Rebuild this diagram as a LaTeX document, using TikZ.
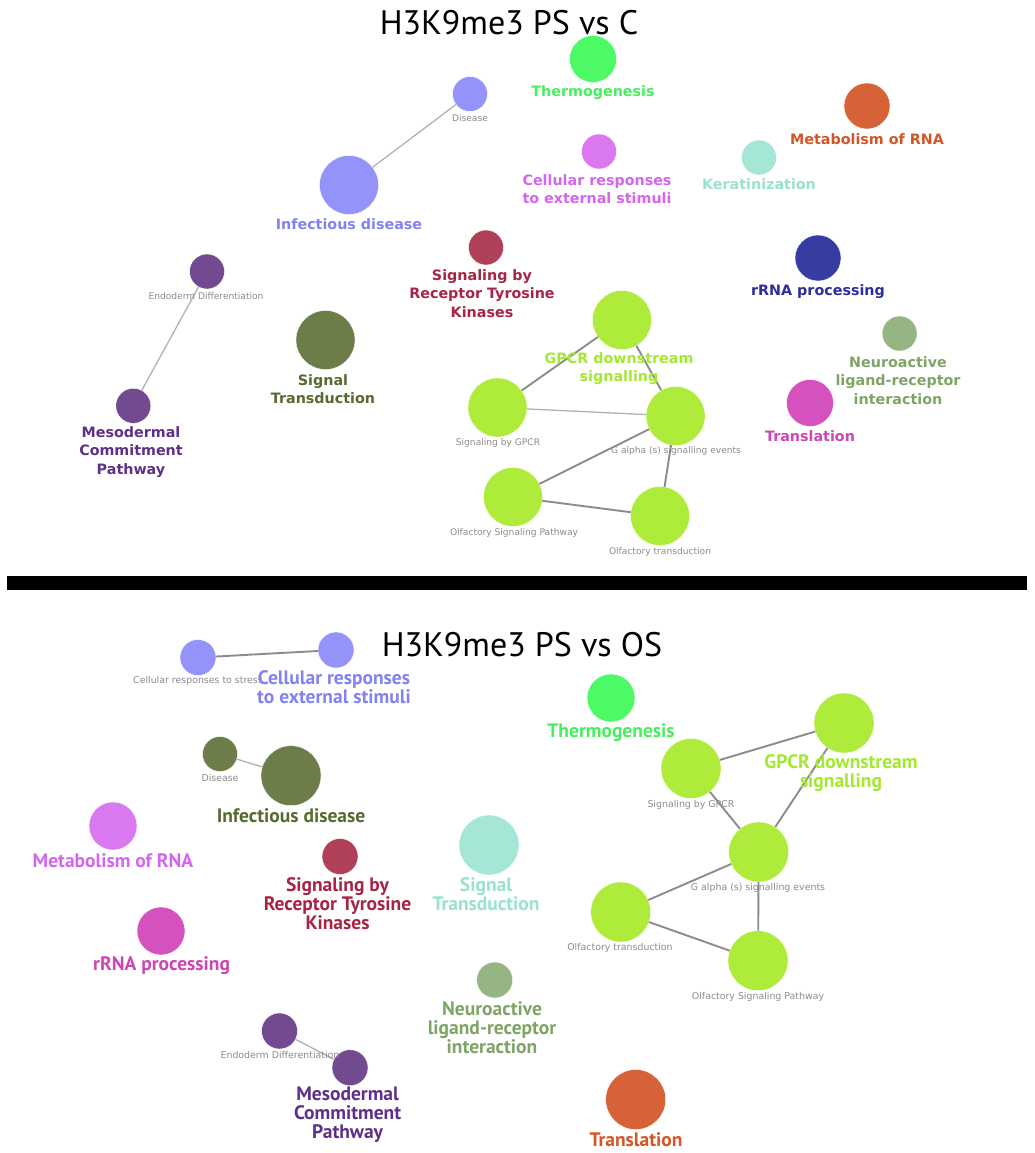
\documentclass[tikz,border=0pt]{standalone}
\usepackage{fontspec}
\setmainfont{DejaVu Sans}
\newfontfamily\ptsans{PT Sans}
\definecolor{peri}{HTML}{9393FA}\definecolor{periL}{HTML}{8282F2}
\definecolor{therm}{HTML}{4DFA66}\definecolor{thermL}{HTML}{46F05C}
\definecolor{viol}{HTML}{DA78EF}\definecolor{violL}{HTML}{D466EE}
\definecolor{oran}{HTML}{D66237}\definecolor{oranL}{HTML}{D65425}
\definecolor{teal}{HTML}{A6E6D6}\definecolor{tealL}{HTML}{98E2CF}
\definecolor{crim}{HTML}{AF4058}\definecolor{crimL}{HTML}{A82445}
\definecolor{navy}{HTML}{373CA2}\definecolor{navyL}{HTML}{2B2E9C}
\definecolor{purp}{HTML}{724A90}\definecolor{purpL}{HTML}{5E3088}
\definecolor{oliv}{HTML}{6C7D4A}\definecolor{olivL}{HTML}{566A31}
\definecolor{lime}{HTML}{AEEB3A}\definecolor{limeL}{HTML}{A4E832}
\definecolor{sage}{HTML}{96B583}\definecolor{sageL}{HTML}{7FA566}
\definecolor{mage}{HTML}{D552BE}\definecolor{mageL}{HTML}{CE45B4}
\definecolor{smallgray}{HTML}{8C8C8C}
\tikzset{
  bub/.style={circle, inner sep=0pt, outer sep=0pt, minimum size=#1, draw=white, line width=0.4pt},
  labA/.style={font=\fontsize{14.3}{18.6}\selectfont\bfseries, align=center, inner sep=0pt},
  labB/.style={font=\ptsans\fontsize{19.5}{19}\selectfont\bfseries, align=center, inner sep=0pt},
  smA/.style={font=\fontsize{9.1}{10}\selectfont, text=smallgray, inner sep=0pt},
  smB/.style={font=\fontsize{9.4}{10}\selectfont, text=smallgray, inner sep=0pt},
  edgeL/.style={draw=black!30, line width=1.3pt},
  edgeD/.style={draw=black!45, line width=1.9pt},
  ttl/.style={font=\ptsans\fontsize{34}{40}\selectfont, inner sep=0pt, anchor=base}
}
\begin{document}
\begin{tikzpicture}[x=1pt,y=-1pt]
\useasboundingbox[fill=white] (0,0) rectangle (1034,1153);
% ===== top panel =====
\node[ttl] (t1) at (509,35) {H3K9me3 PS vs C};
\node[bub=35, fill=peri] (tDis) at (470,94) {};
\node[bub=59, fill=peri] (tInf) at (349,185) {};
\node[bub=47, fill=therm] (tTherm) at (593,59) {};
\node[bub=35, fill=viol] (tCell) at (599,151.5) {};
\node[bub=46, fill=oran] (tMet) at (867,106) {};
\node[bub=35, fill=teal] (tKer) at (759,157.5) {};
\node[bub=35, fill=crim] (tRTK) at (486,247.5) {};
\node[bub=46, fill=navy] (tRRNA) at (818,258) {};
\node[bub=35, fill=purp] (tEndo) at (207,271.5) {};
\node[bub=35, fill=purp] (tMeso) at (133.3,405.8) {};
\node[bub=59, fill=oliv] (tSig) at (325.5,340) {};
\node[bub=59, fill=lime] (tGPCR) at (622,320) {};
\node[bub=59, fill=lime] (tSGPCR) at (497.5,407.5) {};
\node[bub=59, fill=lime] (tGal) at (675.6,416) {};
\node[bub=59, fill=lime] (tOSP) at (513,497) {};
\node[bub=59, fill=lime] (tOT) at (660,516) {};
\node[bub=35, fill=sage] (tNeuro) at (899.6,333.5) {};
\node[bub=47, fill=mage] (tTrans) at (810,403) {};
\draw[edgeL] (tDis) -- (tInf);
\draw[edgeL] (tEndo) -- (tMeso);
\draw[edgeD] (tGPCR) -- (tSGPCR);
\draw[edgeD] (tGPCR) -- (tGal);
\draw[edgeL] (tSGPCR) -- (tGal);
\draw[edgeD] (tGal) -- (tOSP);
\draw[edgeD] (tGal) -- (tOT);
\draw[edgeD] (tOSP) -- (tOT);
\node[smA] (tDisL) at (470,118) {Disease};
\node[labA, text=periL] (tInfL) at (349,224) {Infectious disease};
\node[labA, text=thermL] (tThermL) at (593,92.5) {Thermogenesis};
\node[labA, text=violL] (tCellL) at (597,189) {Cellular responses\\to external stimuli};
\node[labA, text=oranL] (tMetL) at (867,139.5) {Metabolism of RNA};
\node[labA, text=tealL] (tKerL) at (759,184.5) {Keratinization};
\node[labA, text=crimL] (tRTKL) at (482,293.5) {Signaling by\\Receptor Tyrosine\\Kinases};
\node[labA, text=navyL] (tRRNAL) at (818,291.5) {rRNA processing};
\node[smA] (tEndoL) at (206,296) {Endoderm Differentiation};
\node[labA, text=purpL] (tMesoL) at (131,452) {Mesodermal\\Commitment\\Pathway};
\node[labA, text=olivL] (tSigL) at (323,389) {Signal\\Transduction};
\node[labA, text=limeL] (tGPCRL) at (619,368.5) {GPCR downstream\\signalling};
\node[smA] (tSGPCRL) at (498,443) {Signaling by GPCR};
\node[smA] (tGalL) at (676,451) {G alpha (s) signalling events};
\node[smA] (tOSPL) at (514,533) {Olfactory Signaling Pathway};
\node[smA] (tOTL) at (660,552) {Olfactory transduction};
\node[labA, text=sageL] (tNeuroL) at (898,380.5) {Neuroactive\\ligand-receptor\\interaction};
\node[labA, text=mageL] (tTransL) at (810,436) {Translation};
% ===== separator =====
\fill[black] (7,576) rectangle (1027,590);
% ===== bottom panel =====
\node[ttl] (t2) at (522,656) {H3K9me3 PS vs OS};
\node[bub=36, fill=peri] (bStress) at (198,657.5) {};
\node[bub=36, fill=peri] (bCell) at (336,650) {};
\node[bub=35, fill=oliv] (bDis) at (220,754) {};
\node[bub=60, fill=oliv] (bInf) at (291,775.7) {};
\node[bub=48, fill=viol] (bMet) at (113,826) {};
\node[bub=36, fill=crim] (bRTK) at (340,856.5) {};
\node[bub=60, fill=teal] (bSig) at (489,845) {};
\node[bub=48, fill=mage] (bRRNA) at (161,931) {};
\node[bub=36, fill=sage] (bNeuro) at (494.7,980) {};
\node[bub=36, fill=purp] (bEndo) at (279.5,1031) {};
\node[bub=36, fill=purp] (bMeso) at (350,1067.7) {};
\node[bub=60, fill=oran] (bTrans) at (635.7,1099.5) {};
\node[bub=48, fill=therm] (bTherm) at (611,698) {};
\node[bub=60, fill=lime] (bSGPCR) at (691,768.5) {};
\node[bub=60, fill=lime] (bGPCR) at (844,723) {};
\node[bub=60, fill=lime] (bGal) at (758.7,852) {};
\node[bub=60, fill=lime] (bOT) at (620.7,912) {};
\node[bub=60, fill=lime] (bOSP) at (758,960.7) {};
\draw[edgeD] (bStress) -- (bCell);
\draw[edgeL] (bDis) -- (bInf);
\draw[edgeL] (bEndo) -- (bMeso);
\draw[edgeD] (bSGPCR) -- (bGPCR);
\draw[edgeD] (bSGPCR) -- (bGal);
\draw[edgeD] (bGPCR) -- (bGal);
\draw[edgeD] (bGal) -- (bOT);
\draw[edgeD] (bGal) -- (bOSP);
\draw[edgeD] (bOT) -- (bOSP);
\node[smB] (bStressL) at (198,681) {Cellular responses to stress};
\node[labB, text=periL] (bCellL) at (334,687.5) {Cellular responses\\to external stimuli};
\node[smB] (bDisL) at (220,778) {Disease};
\node[labB, text=olivL] (bInfL) at (291,815.7) {Infectious disease};
\node[labB, text=violL] (bMetL) at (113,860.7) {Metabolism of RNA};
\node[labB, text=crimL] (bRTKL) at (337.5,904) {Signaling by\\Receptor Tyrosine\\Kinases};
\node[labB, text=tealL] (bSigL) at (486,894.5) {Signal\\Transduction};
\node[labB, text=mageL] (bRRNAL) at (161.6,965.7) {rRNA processing};
\node[labB, text=sageL] (bNeuroL) at (492,1027.7) {Neuroactive\\ligand-receptor\\interaction};
\node[smB] (bEndoL) at (280,1055) {Endoderm Differentiation};
\node[labB, text=purpL] (bMesoL) at (347.6,1115) {Mesodermal\\Commitment\\Pathway};
\node[labB, text=oranL] (bTransL) at (636,1140) {Translation};
\node[labB, text=thermL] (bThermL) at (611,732.7) {Thermogenesis};
\node[smB] (bSGPCRL) at (691,804.7) {Signaling by GPCR};
\node[labB, text=limeL] (bGPCRL) at (841,773.4) {GPCR downstream\\signalling};
\node[smB] (bGalL) at (758,888) {G alpha (s) signalling events};
\node[smB] (bOTL) at (620,948) {Olfactory transduction};
\node[smB] (bOSPL) at (758,997) {Olfactory Signaling Pathway};
\end{tikzpicture}
\end{document}
